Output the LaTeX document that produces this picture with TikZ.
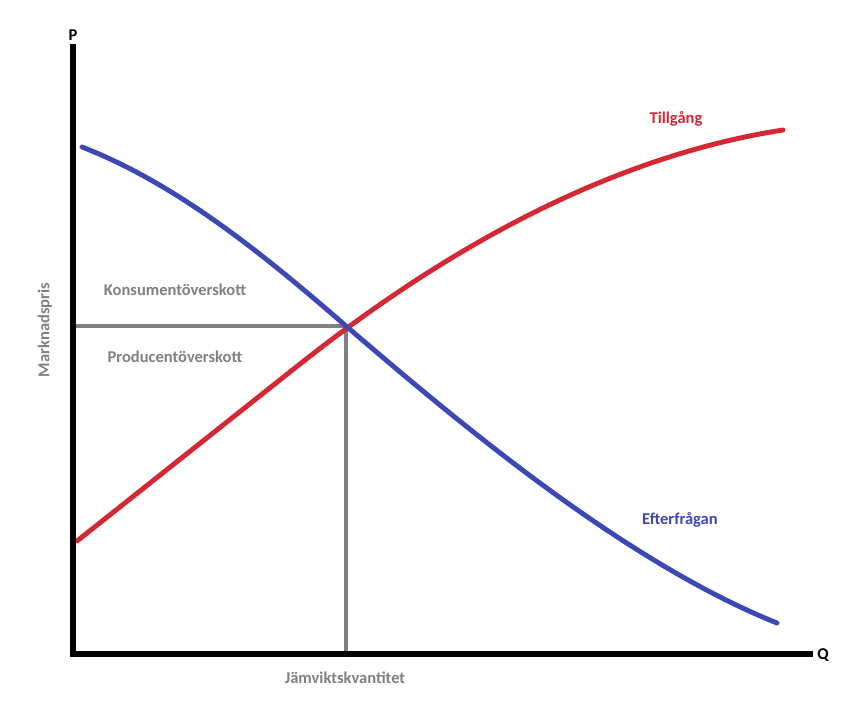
\documentclass[tikz,border=0pt]{standalone}
\usepackage{fontspec}
\setmainfont{Carlito}
\definecolor{tillred}{RGB}{212,40,52}
\definecolor{eftblue}{RGB}{62,72,180}
\definecolor{lblgray}{RGB}{128,128,128}
\tikzset{
	axis/.style={line width=3.4pt},
	guide/.style={line width=2pt, lblgray},
	curve/.style={line width=2.8pt, line cap=round},
	lbl/.style={font=\bfseries\fontsize{9.4}{11}\selectfont}
}
\begin{document}
\begin{tikzpicture}[x=0.02cm, y=-0.02cm]
		\useasboundingbox (0,0) rectangle (856,720);

		\coordinate (origo) at (73,654);
		\coordinate (ptop) at (73,47);
		\coordinate (qend) at (810,654);
		\coordinate (jmv) at (346,326);
		\coordinate (pris) at (73,326);
		\coordinate (kvant) at (346,654);

		\draw[guide] (pris) -- (jmv);
		\draw[guide] (jmv) -- (kvant);

		\draw[curve, tillred] (77,541) -- (300,364) .. controls (420,269) and (590,160) .. (783,130);
		\draw[curve, eftblue] (82,147) .. controls (180,185) and (270,260) .. (jmv) .. controls (450,415) and (620,560) .. (777,623);

		\draw[axis, line cap=rect] (ptop) -- (origo) -- (qend);

		\node[lbl] (p) at (73,35) {P};
		\node[lbl] (q) at (823,655) {Q};
		\node[lbl, lblgray] (kons) at (175,290) {Konsumentöverskott};
		\node[lbl, lblgray] (prod) at (175,357) {Producentöverskott};
		\node[lbl, lblgray, rotate=90] (mpris) at (45,330) {Marknadspris};
		\node[lbl, lblgray] (jkv) at (345,678) {Jämviktskvantitet};
		\node[lbl, tillred] (till) at (676,119) {Tillgång};
		\node[lbl, eftblue] (eft) at (680,520) {Efterfrågan};
\end{tikzpicture}
\end{document}
